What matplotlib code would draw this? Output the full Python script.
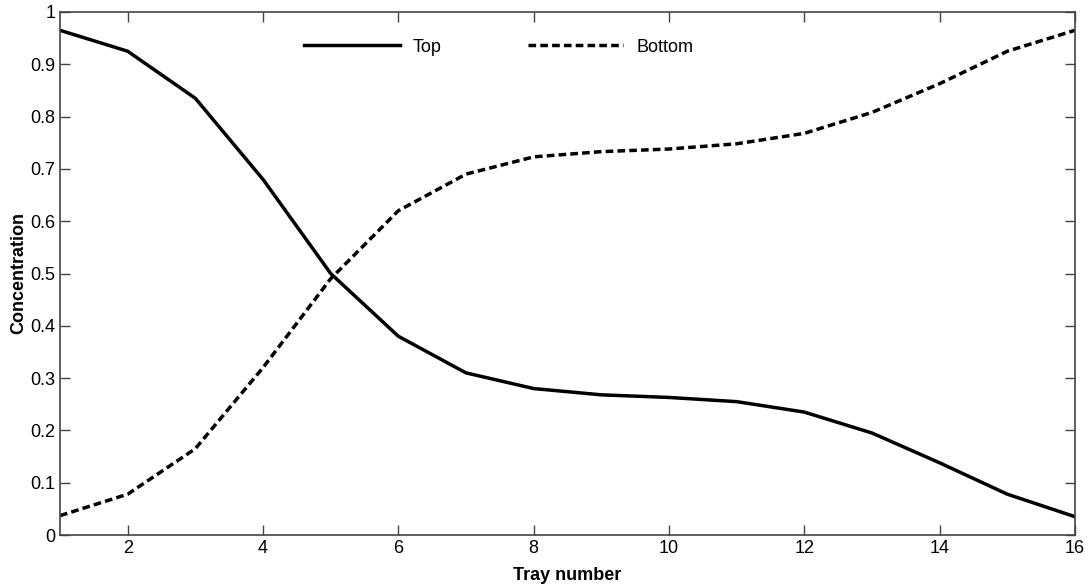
import matplotlib.pyplot as plt

plt.rcParams['font.family'] = ['Liberation Sans', 'DejaVu Sans']

trays = list(range(1, 17))
top = [0.965, 0.925, 0.835, 0.68, 0.50, 0.38, 0.31, 0.28, 0.268, 0.263,
       0.255, 0.235, 0.195, 0.138, 0.078, 0.035]
bottom = [0.037, 0.078, 0.165, 0.32, 0.49, 0.62, 0.69, 0.723, 0.733, 0.738,
          0.748, 0.768, 0.808, 0.863, 0.925, 0.965]
xticks = [2, 4, 6, 8, 10, 12, 14, 16]
yticks = [0, 0.1, 0.2, 0.3, 0.4, 0.5, 0.6, 0.7, 0.8, 0.9, 1]
ytick_labels = ['0', '0.1', '0.2', '0.3', '0.4', '0.5', '0.6', '0.7', '0.8', '0.9', '1']

fig = plt.figure(figsize=(10.9, 5.84), dpi=100)
ax = fig.add_axes([60/1090, 1 - 535/584, 1015/1090, 523/584])

ax.plot(trays, top, color='black', lw=2.5, ls='-', label='Top')
ax.plot(trays, bottom, color='black', lw=2.5, ls=(0, (2.2, 1.2)), label='Bottom')

ax.set_xlim(1, 16)
ax.set_ylim(0, 1)
ax.set_xticks(xticks)
ax.set_yticks(yticks)
ax.set_yticklabels(ytick_labels)
ax.tick_params(direction='in', top=True, right=True, length=7, width=1,
               labelsize=13, color='#444444')
for s in ax.spines.values():
    s.set_color('#444444')
    s.set_linewidth(1.2)

ax.set_xlabel('Tray number', fontsize=13, fontweight='bold', labelpad=7)
ax.set_ylabel('Concentration', fontsize=13, fontweight='bold', labelpad=2)

ax.legend(loc='upper center', bbox_to_anchor=(0.432, 0.98), ncol=2, frameon=False,
          fontsize=13, handlelength=5.3, columnspacing=4.8, handletextpad=0.7)

fig.savefig('out.png')
